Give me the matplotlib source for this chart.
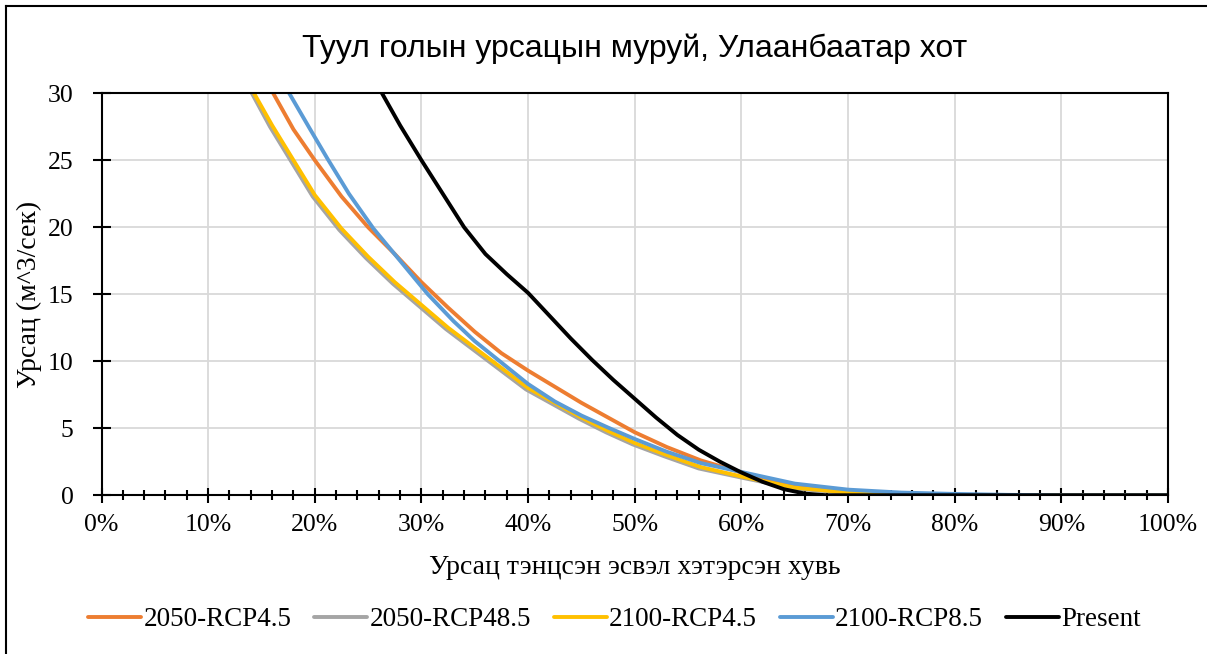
import matplotlib
matplotlib.use("Agg")
from matplotlib import pyplot as plt
from matplotlib.lines import Line2D
from matplotlib.ticker import MultipleLocator, PercentFormatter

plt.rcParams['font.family'] = ['Liberation Serif', 'DejaVu Serif']

title = "Туул голын урсацын муруй, Улаанбаатар хот"
xlabel = "Урсац тэнцсэн эсвэл хэтэрсэн хувь"
ylabel = "Урсац (м^3/сек)"

# exceedance (%) -> flow (m^3/s)
rcp45_2050_x = [15.5, 16.1, 18.0, 20.0, 22.5, 25.0, 27.5, 30.0, 32.5, 35.0, 37.5, 40.0, 42.5, 45.0,
                47.5, 50.0, 53.0, 56.2, 60.0, 63.0, 66.0, 70.0, 75.0, 80.0, 85.0, 100.0]
rcp45_2050_y = [31.0, 30.0, 27.3, 25.0, 22.3, 20.0, 18.0, 15.9, 14.0, 12.2, 10.6, 9.3, 8.1, 6.9,
                5.8, 4.7, 3.6, 2.6, 1.7, 1.05, 0.6, 0.27, 0.1, 0.03, 0.0, 0.0]

rcp485_2050_x = [13.5, 14.1, 15.8, 17.8, 19.8, 22.3, 24.8, 27.3, 29.8, 32.3, 34.8, 37.3, 39.8, 42.3,
                 44.8, 47.3, 49.8, 52.8, 56.0, 60.0, 65.0, 70.0, 75.0, 80.0, 100.0]
rcp485_2050_y = [30.8, 30.0, 27.5, 24.9, 22.3, 19.8, 17.7, 15.8, 14.1, 12.4, 10.9, 9.4, 7.9, 6.8,
                 5.7, 4.7, 3.8, 2.9, 2.0, 1.32, 0.5, 0.17, 0.04, 0.0, 0.0]

rcp45_2100_x = [13.7, 14.3, 16.0, 18.0, 20.0, 22.5, 25.0, 27.5, 30.0, 32.5, 35.0, 37.5, 40.0, 42.5,
                45.0, 47.5, 50.0, 53.0, 56.2, 60.0, 65.0, 70.0, 75.0, 80.0, 100.0]
rcp45_2100_y = [30.8, 30.0, 27.6, 25.0, 22.4, 19.9, 17.8, 15.9, 14.2, 12.5, 11.0, 9.5, 8.0, 6.9,
                5.8, 4.8, 3.9, 3.0, 2.1, 1.4, 0.57, 0.2, 0.05, 0.0, 0.0]

rcp85_2100_x = [17.0, 17.6, 19.5, 21.2, 23.2, 25.5, 28.0, 30.6, 33.0, 35.0, 37.5, 40.0, 42.5, 45.0,
                47.5, 50.0, 53.0, 56.2, 60.0, 65.0, 70.0, 75.0, 80.0, 85.0, 90.0, 100.0]
rcp85_2100_y = [30.8, 30.0, 27.4, 25.1, 22.5, 19.9, 17.5, 15.0, 13.0, 11.5, 9.9, 8.3, 7.0, 5.95,
                5.05, 4.2, 3.25, 2.4, 1.74, 0.87, 0.42, 0.2, 0.1, 0.03, 0.0, 0.0]

present_x = [25.0, 26.3, 28.0, 30.0, 32.0, 34.0, 36.0, 38.0, 40.0, 42.0, 44.0, 46.0, 48.0, 50.0,
             52.0, 54.0, 56.0, 58.0, 60.0, 62.0, 64.0, 66.0, 68.0, 100.0]
present_y = [31.8, 30.0, 27.6, 25.0, 22.5, 20.0, 18.0, 16.5, 15.1, 13.4, 11.7, 10.1, 8.6, 7.2,
             5.8, 4.5, 3.4, 2.5, 1.7, 1.0, 0.45, 0.12, 0.0, 0.0]

series = [
    ("2050-RCP4.5", rcp45_2050_x, rcp45_2050_y, "#ED7D31"),
    ("2050-RCP48.5", rcp485_2050_x, rcp485_2050_y, "#A5A5A5"),
    ("2100-RCP4.5", rcp45_2100_x, rcp45_2100_y, "#FFC000"),
    ("2100-RCP8.5", rcp85_2100_x, rcp85_2100_y, "#5B9BD5"),
    ("Present", present_x, present_y, "black"),
]

fig = plt.figure(figsize=(12.07, 6.54), dpi=100)
ax = fig.add_axes([0.0841, 0.2427, 0.8836, 0.6147])

for name, xs, ys, col in series:
    ax.plot(xs, ys, color=col, lw=2.8, label=name, solid_capstyle='round')

ax.set_xlim(0, 100)
ax.set_ylim(0, 30)
ax.xaxis.set_major_locator(MultipleLocator(10))
ax.xaxis.set_minor_locator(MultipleLocator(2))
ax.xaxis.set_major_formatter(PercentFormatter(xmax=100, decimals=0))
ax.yaxis.set_major_locator(MultipleLocator(5))

ax.set_axisbelow(True)
ax.grid(True, which='major', color='#D9D9D9', lw=1.3)
for s in ax.spines.values():
    s.set_color('black')
    s.set_linewidth(1.5)

ax.tick_params(axis='x', which='major', direction='inout', length=10.8, width=1.5, pad=8,
               labelsize=18.5)
ax.tick_params(axis='x', which='minor', direction='inout', length=7.9, width=1.5)
ax.tick_params(axis='y', which='major', direction='inout', length=12.5, width=1.5, pad=14,
               labelsize=18.5)

ax.set_xlabel(xlabel, fontsize=20, va='top')
ax.xaxis.set_label_coords(0.5, -0.148)
ax.set_ylabel(ylabel, fontsize=20)
ax.yaxis.set_label_coords(-0.056, 0.5)

fig.text(0.526, 0.9133, title, ha='center', va='baseline', fontsize=23,
         family=['Liberation Sans', 'DejaVu Sans'])

fig.legend(loc='center', bbox_to_anchor=(0.509, 0.052), ncol=5, frameon=False,
           handlelength=1.95, handletextpad=0.08, columnspacing=0.85, fontsize=19.5)

# outer chart border (left and top edges visible)
fig.add_artist(Line2D([5.5 / 1207, 5.5 / 1207], [0, 1 - 6 / 654], transform=fig.transFigure,
                      color='black', lw=1.5))
fig.add_artist(Line2D([5.5 / 1207, 1], [1 - 6 / 654, 1 - 6 / 654], transform=fig.transFigure,
                      color='black', lw=1.5))

plt.savefig("out.png", dpi=100)
